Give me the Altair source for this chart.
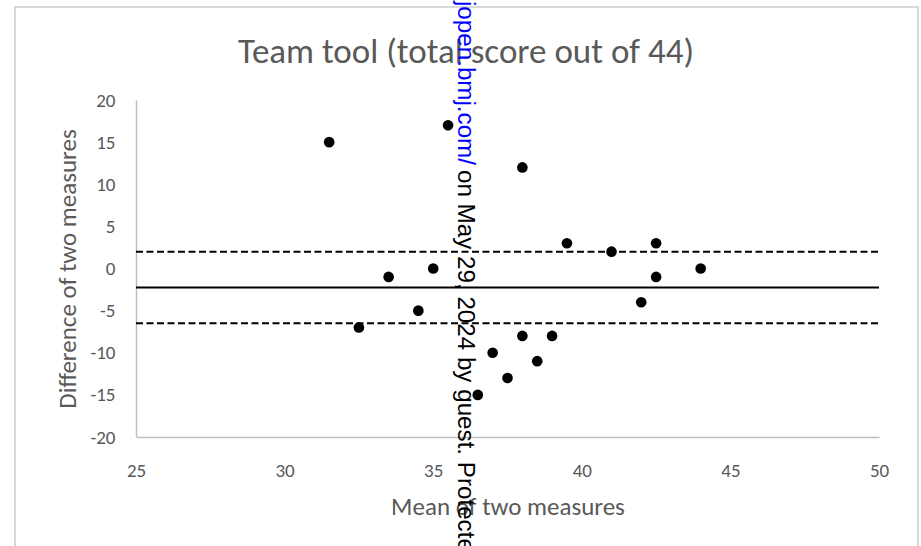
import altair as alt
import pandas as pd

# Bland-Altman style data (mean of two measures, difference of two measures)
mean_vals = [31.5, 32.5, 33.5, 34.5, 35, 35.5, 36.5, 37, 37.5, 38, 38, 38.5,
             39, 39.5, 41, 42, 42.5, 42.5, 44]
diff_vals = [15, -7, -1, -5, 0, 17, -15, -10, -13, 12, -8, -11,
             -8, 3, 2, -4, 3, -1, 0]

# reference lines: upper limit, mean difference, lower limit
line_vals = [2.0, -2.25, -6.5]
line_kind = ["limit", "mean", "limit"]

x_ticks = [25, 30, 35, 40, 45, 50]
y_ticks = [-20, -15, -10, -5, 0, 5, 10, 15, 20]

title_text = "Team tool (total score out of 44)"
x_title = "Mean of two measures"
y_title = "Difference of two measures"
wm_blue = "bmjopen.bmj.com/"
wm_black = "on May 29, 2024 by guest. Protected by copyright."

W, H = 743, 337
FONT = "Carlito, 'Liberation Sans Narrow', Lato, sans-serif"
GREY = "#595959"

pts = pd.DataFrame({"m": mean_vals, "d": diff_vals})
lines = pd.DataFrame({"y": line_vals, "kind": line_kind,
                      "x1": [25] * 3, "x2": [50] * 3})
one = pd.DataFrame({"a": [0]})

xscale = alt.Scale(domain=[25, 50], nice=False, zero=False)
yscale = alt.Scale(domain=[-20, 20], nice=False, zero=False)

axis_common = dict(grid=False, ticks=False, domainColor="#bfbfbf",
                   domainWidth=1.5, labelColor=GREY, labelFont=FONT,
                   labelFontSize=19, labelFlush=False, labelOverlap=False,
                   labelExpr="'' + datum.value",
                   titleFont=FONT, titleFontSize=25, titleColor=GREY,
                   titleFontWeight="normal", titleBaseline="middle",
                   titleAlign="center")

border = alt.Chart(one).mark_rect(
    fillOpacity=0, stroke="#d9d9d9", strokeWidth=2
).encode(
    x=alt.value(-121), x2=alt.value(782), y=alt.value(-93), y2=alt.value(470)
)

points = alt.Chart(pts).mark_circle(size=113, color="black", opacity=1).encode(
    x=alt.X("m:Q", scale=xscale,
            axis=alt.Axis(values=x_ticks, title=x_title, labelPadding=24,
                          titleX=371.5, titleY=69, **axis_common)),
    y=alt.Y("d:Q", scale=yscale,
            axis=alt.Axis(values=y_ticks, title=y_title, labelPadding=21,
                          titleX=-69, titleY=168.5, titleAngle=-90,
                          **axis_common)),
)

mean_line = alt.Chart(lines).transform_filter(alt.datum.kind == "mean").mark_rule(
    color="black", strokeWidth=2
).encode(x=alt.X("x1:Q", scale=xscale), x2="x2:Q", y=alt.Y("y:Q", scale=yscale))

limit_lines = alt.Chart(lines).transform_filter(alt.datum.kind == "limit").mark_rule(
    color="black", strokeWidth=2, strokeDash=[7, 3.5]
).encode(x=alt.X("x1:Q", scale=xscale), x2="x2:Q", y=alt.Y("y:Q", scale=yscale))

title = alt.Chart(one).mark_text(
    text=title_text, font=FONT, fontSize=35, color=GREY,
    align="center", baseline="middle"
).encode(x=alt.value(330), y=alt.value(-48))

wm1 = alt.Chart(one).mark_text(
    text=wm_blue, font="'Liberation Sans', Arial, sans-serif", fontSize=24.2,
    color="#0000ff", align="right", baseline="alphabetic", angle=90
).encode(x=alt.value(322), y=alt.value(65))

wm2 = alt.Chart(one).mark_text(
    text=wm_black, font="'Liberation Sans', Arial, sans-serif", fontSize=24.2,
    color="black", align="left", baseline="alphabetic", angle=90
).encode(x=alt.value(322), y=alt.value(70))

chart = alt.layer(border, limit_lines, mean_line, points, title, wm1, wm2).properties(
    width=W, height=H,
    background="white",
    autosize=alt.AutoSizeParams(type="none"),
    padding={"left": 136, "top": 100, "right": 42, "bottom": 109},
).configure_view(strokeOpacity=0, strokeWidth=0)

chart.save("out.html", embed_options={"renderer": "svg", "actions": False})
